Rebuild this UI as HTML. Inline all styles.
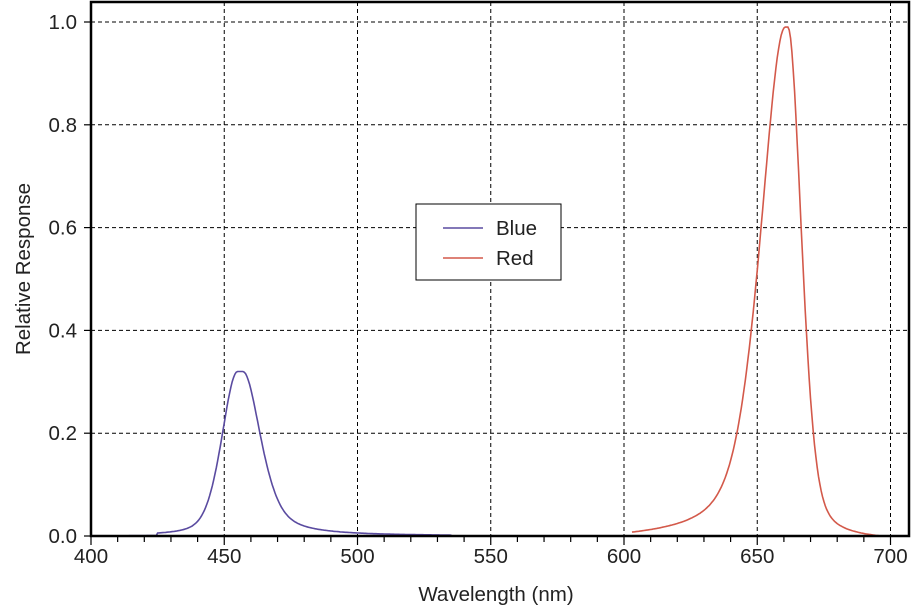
<!DOCTYPE html>
<html><head><meta charset="utf-8"><style>
body{margin:0;background:#fff;}
svg text{font-family:"Liberation Sans",Arial,sans-serif;fill:#222;}
</style></head><body>
<svg id="s" width="915" height="608" xmlns="http://www.w3.org/2000/svg">
<rect x="0" y="0" width="915" height="608" fill="#fff"/>
<g id="grid" stroke="#000" stroke-width="1" stroke-dasharray="4,3"></g>
<path id="blue" fill="none" stroke="#5a4ba0" stroke-width="1.6"/>
<path id="red" fill="none" stroke="#d3594a" stroke-width="1.6"/>
<rect x="91" y="2" width="818" height="534" fill="none" stroke="#000" stroke-width="2.5"/>
<g id="ticks" stroke="#000" stroke-width="1.2"></g>
<g id="lab" font-size="20.5"></g>
<text x="496" y="601" font-size="20.5" text-anchor="middle">Wavelength (nm)</text>
<text transform="translate(30,269) rotate(-90)" font-size="20.5" text-anchor="middle">Relative Response</text>
<rect x="416" y="204" width="145" height="76" fill="#fff" stroke="#000" stroke-width="1"/>
<line x1="443" y1="228" x2="483" y2="228" stroke="#5a4ba0" stroke-width="1.6"/>
<line x1="443" y1="258" x2="483" y2="258" stroke="#d3594a" stroke-width="1.6"/>
<text x="496" y="235" font-size="20.5">Blue</text>
<text x="496" y="265" font-size="20.5">Red</text>
</svg>
<script>
var X=function(w){return 91+(w-400)*2.665;},Y=function(v){return 536-v*514;};
var g=document.getElementById('grid'),t=document.getElementById('ticks'),l=document.getElementById('lab'),ns='http://www.w3.org/2000/svg';
function el(p,n,a,txt){var e=document.createElementNS(ns,n);for(var k in a)e.setAttribute(k,a[k]);if(txt)e.textContent=txt;p.appendChild(e);}
for(var w=450;w<=700;w+=50)el(g,'line',{x1:X(w),x2:X(w),y1:2,y2:536});
for(var v=0.2;v<=1.01;v+=0.2)el(g,'line',{x1:91,x2:909,y1:Y(v),y2:Y(v)});
for(var w=400;w<=700;w+=10)el(t,'line',{x1:X(w),x2:X(w),y1:536,y2:w%50==0?545:542});
for(var w=400;w<=700;w+=50)el(l,'text',{x:X(w),y:563,'text-anchor':'middle'},String(w));
for(var i=0;i<=5;i++){el(t,'line',{x1:84,x2:91,y1:Y(i*0.2),y2:Y(i*0.2)});el(l,'text',{x:77,y:Y(i*0.2)+7,'text-anchor':'end'},(i*0.2).toFixed(1));}
function shape(w,c,wl,wr,flat,ml,mr){var d=w-c;if(Math.abs(d)<flat)return 1;d=d>0?d-flat:d+flat;var h=d<0?wl:wr,m=d<0?ml:mr;var z=d/h;return (1-m)*Math.exp(-Math.LN2*z*z)+m/(1+z*z);}
var pb='';for(var w=400;w<=575;w+=0.5){var v=0.32*shape(w,456,7,8,1,0.35,0.55);if(w<425)v*=0.15;if(w>535)v=0;pb+=(pb?'L':'M')+X(w).toFixed(1)+','+Y(v).toFixed(1);}
document.getElementById('blue').setAttribute('d',pb);
var pr='';for(var w=603;w<=700;w+=0.5){var v=shape(w,661,11,6,0.5,0.5,0.35);v=Math.max(0,v-0.01);pr+=(pr?'L':'M')+X(w).toFixed(1)+','+Y(v).toFixed(1);}
document.getElementById('red').setAttribute('d',pr);
</script>
</body></html>
